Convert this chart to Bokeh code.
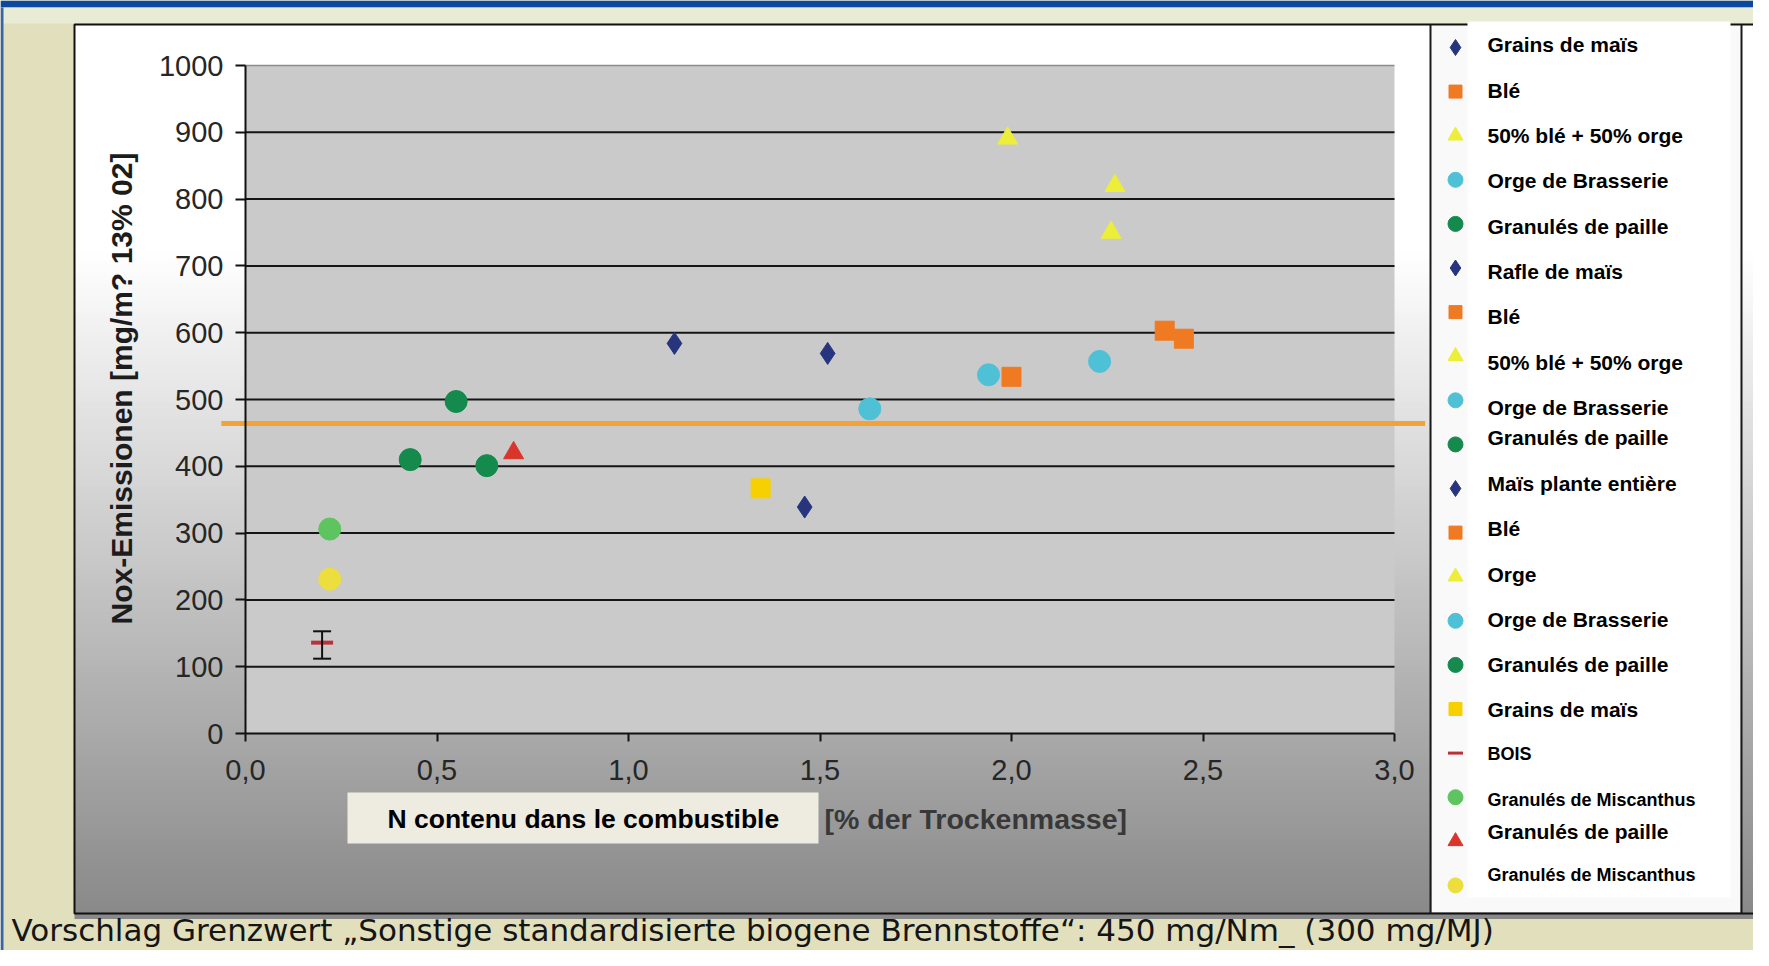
import numpy as np
from math import pi
from bokeh.plotting import figure
from bokeh.models import Range1d, LinearAxis, FixedTicker, CustomJSTickFormatter, ColumnDataSource
from bokeh.core.properties import value
from bokeh.embed import file_html
from bokeh.resources import INLINE

# ---------------- data ----------------
series_labels = ["Grains de maïs", "Blé", "50% blé + 50% orge", "Orge de Brasserie", "Granulés de paille",
                 "Rafle de maïs", "Blé", "50% blé + 50% orge", "Orge de Brasserie", "Granulés de paille",
                 "Maïs plante entière", "Blé", "Orge", "Orge de Brasserie", "Granulés de paille",
                 "Grains de maïs", "BOIS", "Granulés de Miscanthus", "Granulés de paille", "Granulés de Miscanthus"]
n_content = [1.12, 2.00, 1.99, 1.94, 0.55, 1.52, 2.40, 2.27, 2.23, 0.43,
             1.46, 2.45, 2.26, 1.63, 0.63, 1.345, 0.20, 0.22, 0.70, 0.22]
nox = [584, 534, 891, 537, 497, 569, 603, 820, 557, 410,
       339, 591, 750, 486, 401, 367, 136, 306, 420, 231]
bois_err = [112, 153]
limit_value = 464
x_ticks = [0, 0.5, 1.0, 1.5, 2.0, 2.5, 3.0]
y_ticks = [0, 100, 200, 300, 400, 500, 600, 700, 800, 900, 1000]
y_label = "Nox-Emissionen [mg/m? 13% 02]"
x_label_fr = "N contenu dans le combustible"
x_label_de = "[% der Trockenmasse]"
caption = "Vorschlag Grenzwert  \u201eSonstige standardisierte biogene Brennstoffe\u201c: 450 mg/Nm_ (300 mg/MJ)"

# ---------------- styles ----------------
NAVY, ORANGE, YTRI, LBLUE, GREEN = "#27357e", "#f07a22", "#ecee3a", "#4fc1d6", "#148a4c"
YSQ, BOISC, LGREEN, RED, YCIRC = "#f6d000", "#b8323a", "#5ec45f", "#d9352a", "#ecde3c"
markers = ["diamond", "square", "triangle", "circle", "circle",
           "diamond", "square", "triangle", "circle", "circle",
           "diamond", "square", "triangle", "circle", "circle",
           "square", "dash", "circle", "triangle", "circle"]
colors = [NAVY, ORANGE, YTRI, LBLUE, GREEN,
          NAVY, ORANGE, YTRI, LBLUE, GREEN,
          NAVY, ORANGE, YTRI, LBLUE, GREEN,
          YSQ, BOISC, LGREEN, RED, YCIRC]
size_by_marker = {"diamond": 22, "square": 19, "triangle": 20, "circle": 22, "dash": 22}
leg_size_by_marker = {"diamond": 16, "square": 13, "triangle": 15, "circle": 15, "dash": 15}

# ---------------- page geometry (reference pixels) ----------------
W, H = 1753, 950
PX0, PXU = 245.0, 383.0      # pixel of x=0 and pixels per unit
PY0, PYU = 733.0, 0.668      # pixel of y=0 and pixels per unit

p = figure(width=W, height=H, output_backend="svg", toolbar_location=None,
           x_range=Range1d(0, W), y_range=Range1d(H, 0),
           x_axis_type=None, y_axis_type=None, title=None, min_border=0,
           background_fill_color="#e1dfbc", border_fill_color="#e1dfbc")
p.outline_line_color = None
p.extra_x_ranges = {"dx": Range1d((0 - PX0) / PXU, (W - PX0) / PXU)}
p.extra_y_ranges = {"dy": Range1d((PY0 - H) / PYU, (PY0 - 0) / PYU)}
D = dict(x_range_name="dx", y_range_name="dy")

# slide decoration
p.quad(left=0, right=W, top=0, bottom=7, fill_color="#0c47a0", line_color=None)
p.quad(left=0, right=W, top=7, bottom=23, fill_color="#e9ecd5", line_color=None)
p.quad(left=0, right=3, top=7, bottom=H, fill_color="#3a64a8", line_color=None)
ys = np.arange(24, 913, 6)
vals = np.clip(255 - (ys - 250) / (913 - 250) * 118, 137, 255)
grad = ["#%02x%02x%02x" % (int(v), int(v), int(v)) for v in vals]
p.quad(left=74, right=W, top=ys, bottom=ys + 6.5, fill_color=grad, line_color=None)
p.quad(left=1431, right=1740, top=25, bottom=912, fill_color="#f9f9f9", line_color=None)
p.quad(left=74, right=W + 5, top=24, bottom=913, fill_color=None, line_color="#111111", line_width=2)
p.segment(x0=[1430, 1741], x1=[1430, 1741], y0=[24, 24], y1=[913, 913], line_color="#1a1a1a", line_width=2)
p.quad(left=1467, right=1730, top=21, bottom=897, fill_color="#ffffff", line_color=None)

# plot area
p.quad(left=[0], right=[3], bottom=[0], top=[1000], fill_color="#cacaca", line_color=None, **D)
p.segment(x0=0, x1=3, y0=y_ticks[1:-1], y1=y_ticks[1:-1], line_color="#151515", line_width=2, **D)
p.segment(x0=[0], x1=[3], y0=[1000], y1=[1000], line_color="#8c8c8c", line_width=1.5, **D)

# limit line
p.segment(x0=[-0.063], x1=[3.08], y0=[limit_value], y1=[limit_value], line_color="#f2a236", line_width=5, **D)

# axes
common = dict(axis_line_width=2, axis_line_color="#111111", major_tick_in=0, major_tick_line_width=2,
              major_tick_line_color="#111111", minor_tick_in=0, minor_tick_out=0,
              major_label_text_font="Liberation Sans", major_label_text_font_size="29px",
              major_label_text_color="#262626")
xax = LinearAxis(fixed_location=0, bounds=(0, 3), ticker=FixedTicker(ticks=x_ticks, minor_ticks=[]),
                 formatter=CustomJSTickFormatter(code="return tick.toFixed(1).replace('.', ',')"),
                 major_tick_out=8, major_label_standoff=18, **D, **common)
p.add_layout(xax, "below")
yax = LinearAxis(fixed_location=0, bounds=(0, 1000), ticker=FixedTicker(ticks=y_ticks, minor_ticks=[]),
                 major_tick_out=10, major_label_standoff=12, **D, **common)
p.add_layout(yax, "left")

# data points
sizes = [size_by_marker[m] for m in markers]
lw = [4 if m == "dash" else 1 for m in markers]
src = ColumnDataSource(dict(x=n_content, y=nox, marker=markers, color=colors, size=sizes, lw=lw, label=series_labels))
p.scatter(x="x", y="y", marker="marker", size="size", fill_color="color", line_color="color",
          line_width="lw", source=src, **D)
bi = series_labels.index("BOIS")
p.segment(x0=[n_content[bi]], x1=[n_content[bi]], y0=[bois_err[0]], y1=[bois_err[1]],
          line_color="#111111", line_width=2, **D)
p.scatter(x=[n_content[bi]] * 2, y=bois_err, marker="dash", size=18, line_color="#111111", line_width=2, **D)

# axis titles
p.text(x=[121], y=[388], text=[y_label], angle=pi / 2, text_align="center", text_baseline="middle",
       text_font=value("Liberation Sans"), text_font_style="bold", text_font_size="30px", text_color="#1c1c1c")
p.quad(left=347, right=818, top=792, bottom=843, fill_color="#eeebe1", line_color=None)
p.text(x=[387], y=[818], text=[x_label_fr], text_align="left", text_baseline="middle",
       text_font=value("Liberation Sans"), text_font_style="bold", text_font_size="26.5px", text_color="#000000")
p.text(x=[824], y=[818], text=[x_label_de], text_align="left", text_baseline="middle",
       text_font=value("Liberation Sans"), text_font_style="bold", text_font_size="28.5px", text_color="#383838")

# legend (manual, matching the pasted labels)
n = len(series_labels)
leg_marker_y = [47 + i * 44.1 for i in range(n)]
leg_text_y = [44, 90, 135, 180, 226, 271, 316, 362, 407, 437, 483, 528, 574, 619, 664, 709, 753, 799, 831, 874]
leg_font = ["18px" if lab in ("BOIS", "Granulés de Miscanthus") else "21px" for lab in series_labels]
lsrc = ColumnDataSource(dict(x=[1455] * n, y=leg_marker_y, marker=markers, color=colors,
                             size=[leg_size_by_marker[m] for m in markers], lw=[3 if m == "dash" else 1 for m in markers]))
p.scatter(x="x", y="y", marker="marker", size="size", fill_color="color", line_color="color", line_width="lw", source=lsrc)
tsrc = ColumnDataSource(dict(x=[1487] * n, y=leg_text_y, text=series_labels, fs=leg_font))
p.text(x="x", y="y", text="text", text_font_size="fs", source=tsrc, text_align="left", text_baseline="middle",
       text_font=value("Liberation Sans"), text_font_style="bold", text_color="#000000")

# caption
p.text(x=[11], y=[929], text=[caption], text_align="left", text_baseline="middle",
       text_font=value("DejaVu Sans"), text_font_size="31px", text_color="#151515")

open("out.html", "w").write(file_html(p, INLINE))
